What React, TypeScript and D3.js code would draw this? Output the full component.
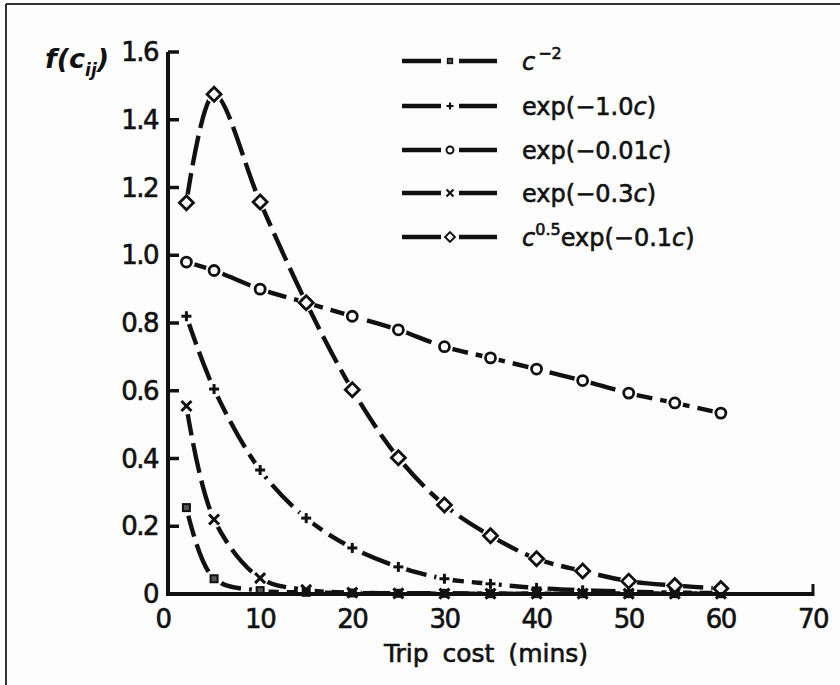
import React from "react";
import * as d3 from "d3";

const costs = [2, 5, 10, 15, 20, 25, 30, 35, 40, 45, 50, 55, 60];
const seriesPowerNeg2 = [0.255, 0.045, 0.01, 0.005, 0.003, 0.002, 0.002, 0.001, 0.001, 0.001, 0.001, 0.001, 0.001];
const seriesPlus = [0.82, 0.605, 0.366, 0.224, 0.136, 0.08, 0.045, 0.03, 0.018, 0.011, 0.007, 0.004, 0.003];
const seriesCircle = [0.98, 0.955, 0.9, 0.86, 0.82, 0.78, 0.73, 0.697, 0.664, 0.63, 0.593, 0.564, 0.534];
const seriesCross = [0.555, 0.22, 0.047, 0.012, 0.004, 0.002, 0.001, 0.001, 0.001, 0.001, 0.001, 0.001, 0.001];
const seriesDiamond = [1.155, 1.475, 1.157, 0.86, 0.603, 0.402, 0.263, 0.172, 0.104, 0.068, 0.038, 0.025, 0.016];

const yTicks = [0, 0.2, 0.4, 0.6, 0.8, 1.0, 1.2, 1.4, 1.6];
const xTicks = [0, 10, 20, 30, 40, 50, 60, 70];

type Marker = "square" | "plus" | "circle" | "cross" | "diamond";
const series: { key: string; values: number[]; marker: Marker }[] = [
  { key: "pow", values: seriesPowerNeg2, marker: "square" },
  { key: "plus", values: seriesPlus, marker: "plus" },
  { key: "circle", values: seriesCircle, marker: "circle" },
  { key: "cross", values: seriesCross, marker: "cross" },
  { key: "diamond", values: seriesDiamond, marker: "diamond" },
];

const FONT = "'DejaVu Sans', sans-serif";
const INK = "#111";
const BG = "#fdfdfd";

function MarkerShape({ type, x, y }: { type: Marker; x: number; y: number }) {
  switch (type) {
    case "square":
      return <rect x={x - 3.5} y={y - 3.5} width={7} height={7} fill="#555" stroke={INK} strokeWidth={2} />;
    case "plus":
      return (
        <g stroke={INK} strokeWidth={3}>
          <line x1={x - 5} y1={y} x2={x + 5} y2={y} />
          <line x1={x} y1={y - 5} x2={x} y2={y + 5} />
        </g>
      );
    case "circle":
      return <circle cx={x} cy={y} r={5} fill="#fff" stroke={INK} strokeWidth={2.8} />;
    case "cross":
      return (
        <g stroke={INK} strokeWidth={3}>
          <line x1={x - 5} y1={y - 5} x2={x + 5} y2={y + 5} />
          <line x1={x - 5} y1={y + 5} x2={x + 5} y2={y - 5} />
        </g>
      );
    case "diamond":
      return (
        <path
          d={`M${x},${y - 7}L${x + 7},${y}L${x},${y + 7}L${x - 7},${y}Z`}
          fill="#fff"
          stroke={INK}
          strokeWidth={2.8}
        />
      );
  }
}

export default function App() {
  const W = 840;
  const H = 685;
  const x = d3.scaleLinear().domain([0, 70]).range([168, 813]);
  const y = d3.scaleLinear().domain([0, 1.6]).range([594, 52]);
  const line = d3
    .line<number>()
    .x((_, i) => x(costs[i]))
    .y((v) => y(v))
    .curve(d3.curveCatmullRom.alpha(0.5));

  const legendRows: { marker: Marker; label: React.ReactNode }[] = [
    {
      marker: "square",
      label: (
        <>
          <tspan fontStyle="italic">c</tspan>
          <tspan fontSize={16} dy={-11} dx={3}>−2</tspan>
        </>
      ),
    },
    {
      marker: "plus",
      label: (
        <>
          exp(−1.0<tspan fontStyle="italic">c</tspan>)
        </>
      ),
    },
    {
      marker: "circle",
      label: (
        <>
          exp(−0.01<tspan fontStyle="italic">c</tspan>)
        </>
      ),
    },
    {
      marker: "cross",
      label: (
        <>
          exp(−0.3<tspan fontStyle="italic">c</tspan>)
        </>
      ),
    },
    {
      marker: "diamond",
      label: (
        <>
          <tspan fontStyle="italic">c</tspan>
          <tspan fontSize={16} dy={-11}>0.5</tspan>
          <tspan dy={11}>exp(−0.1</tspan>
          <tspan fontStyle="italic">c</tspan>)
        </>
      ),
    },
  ];
  const legendY = [61, 106, 150, 193, 237];

  const textProps = { fill: INK, stroke: INK, strokeWidth: 0.6 };

  return (
    <svg
      width={W}
      height={H}
      viewBox={`0 0 ${W} ${H}`}
      style={{ position: "absolute", left: 0, top: 0, background: BG }}
      fontFamily={FONT}
    >
      <rect x={0} y={0} width={W} height={H} fill={BG} />
      {/* frame */}
      <line x1={6} y1={4} x2={W} y2={4} stroke="#333" strokeWidth={2} />
      <line x1={6} y1={4} x2={6} y2={H} stroke="#333" strokeWidth={2} />

      {/* lines */}
      {series.map((s) => (
        <path
          key={s.key}
          d={line(s.values) || ""}
          fill="none"
          stroke={INK}
          strokeWidth={4.4}
          strokeDasharray="30 8"
          strokeLinecap="butt"
        />
      ))}
      {/* gaps around markers */}
      {series.map((s) =>
        s.values.map((v, i) => (
          <circle key={`h-${s.key}-${i}`} cx={x(costs[i])} cy={y(v)} r={8.5} fill={BG} />
        ))
      )}
      {series.map((s) =>
        s.values.map((v, i) => <MarkerShape key={`m-${s.key}-${i}`} type={s.marker} x={x(costs[i])} y={y(v)} />)
      )}

      {/* axes */}
      <line x1={168} y1={y(1.6)} x2={168} y2={596} stroke={INK} strokeWidth={4} />
      <line x1={166} y1={594} x2={x(70)} y2={594} stroke={INK} strokeWidth={4} />
      <line x1={x(70)} y1={596} x2={x(70)} y2={584} stroke={INK} strokeWidth={3} />
      {yTicks
        .filter((t) => t > 0)
        .map((t) => (
          <line key={`yt-${t}`} x1={168} y1={y(t)} x2={179} y2={y(t)} stroke={INK} strokeWidth={3.5} />
        ))}
      {yTicks.map((t) => (
        <text
          key={`yl-${t}`}
          x={t === 0 ? 158 : 158}
          y={y(t) + 9}
          textAnchor="end"
          fontSize={26}
          letterSpacing={-1.5}
          {...textProps}
        >
          {t === 0 ? "0" : d3.format(".1f")(t)}
        </text>
      ))}
      {xTicks.map((t) => (
        <text
          key={`xl-${t}`}
          x={t === 0 ? 163 : x(t)}
          y={628}
          textAnchor="middle"
          fontSize={26}
          letterSpacing={-1.5}
          {...textProps}
        >
          {t}
        </text>
      ))}

      {/* axis titles */}
      <text x={486} y={662} textAnchor="middle" fontSize={25} wordSpacing={6} {...textProps}>
        Trip cost (mins)
      </text>
      <text x={45} y={68} fontSize={27} fontStyle="italic" fontWeight="bold" fill={INK}>
        f(c<tspan fontSize={17} dy={8}>ij</tspan>
        <tspan dy={-8}>)</tspan>
      </text>

      {/* legend */}
      {legendRows.map((r, i) => {
        const ly = legendY[i];
        return (
          <g key={`lg-${i}`}>
            <line x1={402} y1={ly} x2={441} y2={ly} stroke={INK} strokeWidth={4.4} />
            <line x1={459} y1={ly} x2={497} y2={ly} stroke={INK} strokeWidth={4.4} />
            <g transform={`translate(450,${ly}) scale(0.7) translate(-450,${-ly})`}>
              <MarkerShape type={r.marker} x={450} y={ly} />
            </g>
            <text x={522} y={ly + 9} fontSize={24} {...textProps}>
              {r.label}
            </text>
          </g>
        );
      })}
    </svg>
  );
}
